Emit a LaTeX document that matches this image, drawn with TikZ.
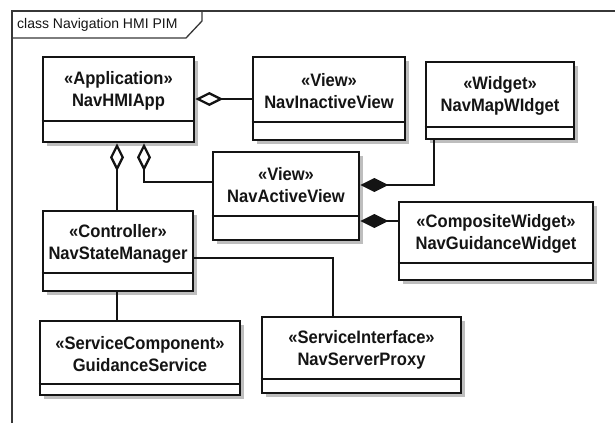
\documentclass[tikz,border=0pt]{standalone}
\usepackage{fontspec}
\setmainfont{Liberation Sans}
\newfontfamily\boxfont[FakeStretch=0.92]{Liberation Sans}
\usetikzlibrary{arrows.meta}
\definecolor{ink}{HTML}{141414}
\definecolor{shade}{HTML}{BEBEBE}
\tikzset{
  classbox/.style={draw=ink, line width=2.6bp, fill=white, inner sep=0pt},
  boxline/.style={draw=ink, line width=2.6bp},
  boxshadow/.style={fill=shade},
  classtext/.style={align=center, inner sep=0pt, text=ink,
    font=\boxfont\fontsize{18bp}{22bp}\selectfont\bfseries},
  conn/.style={draw=ink, line width=2.3bp},
  aggr/.style={conn, -{Diamond[open, length=28bp, width=14bp, line width=2.3bp]}},
  comp/.style={conn, -{Diamond[length=28bp, width=14bp]}},
  frameline/.style={draw=ink!85, line width=1.3bp},
}
\newcommand\umlclass[8]{%
  \fill[boxshadow] ({#2+4},{#3+4}) rectangle ({#4+4},{#5+4});
  \node[classbox, minimum width={(#4-#2)*1bp}, minimum height={(#5-#3)*1bp}]
    (#1) at ({(#2+#4)/2},{(#3+#5)/2}) {};
  \draw[boxline] (#1.west |- 0,#6) -- (#1.east |- 0,#6);
  \node[classtext] (#1-t) at ({(#2+#4)/2},{(#3+#6)/2+1.5}) {«#7»\\#8};
}
\begin{document}
\begin{tikzpicture}[x=1bp, y=-1bp]
\useasboundingbox (0,0) rectangle (615,423);
% frame
\draw[frameline] (12,423) -- (12,11) -- (615,11);
\draw[frameline] (12,38) -- (186,38) -- (202,21) -- (202,11);
\node[anchor=west, inner sep=0pt, text=ink, font=\fontsize{14bp}{16bp}\selectfont] (title) at (17,25) {class Navigation HMI PIM};
% classes
\umlclass{app}{43}{57}{194}{142}{121}{Application}{NavHMIApp}
\umlclass{inactive}{253}{57}{405}{140}{122}{View}{NavInactiveView}
\umlclass{mapw}{426}{62}{574}{139}{127}{Widget}{NavMapWIdget}
\umlclass{active}{213}{152}{359}{240}{216}{View}{NavActiveView}
\umlclass{mgr}{43}{211}{193}{291}{273}{Controller}{NavStateManager}
\umlclass{guidw}{399}{202}{593}{280}{263}{CompositeWidget}{NavGuidanceWidget}
\umlclass{gsvc}{40}{321}{240}{395}{384}{ServiceComponent}{GuidanceService}
\umlclass{proxy}{262}{317}{461}{393}{379}{ServiceInterface}{NavServerProxy}
% connectors
\draw[aggr] (inactive.west |- 0,99) -- (app.east |- 0,99);
\draw[aggr] (mgr.north -| 117,0) -- (app.south -| 117,0);
\draw[aggr] (active.west |- 0,182) -| (app.south -| 144,0);
\draw[comp] (mapw.south -| 434,0) |- (active.east |- 0,185);
\draw[comp] (guidw.west |- 0,221) -- (active.east |- 0,221);
\draw[conn] (mgr.east |- 0,258) -| (proxy.north -| 333,0);
\draw[conn] (gsvc.north -| 117,0) -- (mgr.south -| 117,0);
\end{tikzpicture}
\end{document}
